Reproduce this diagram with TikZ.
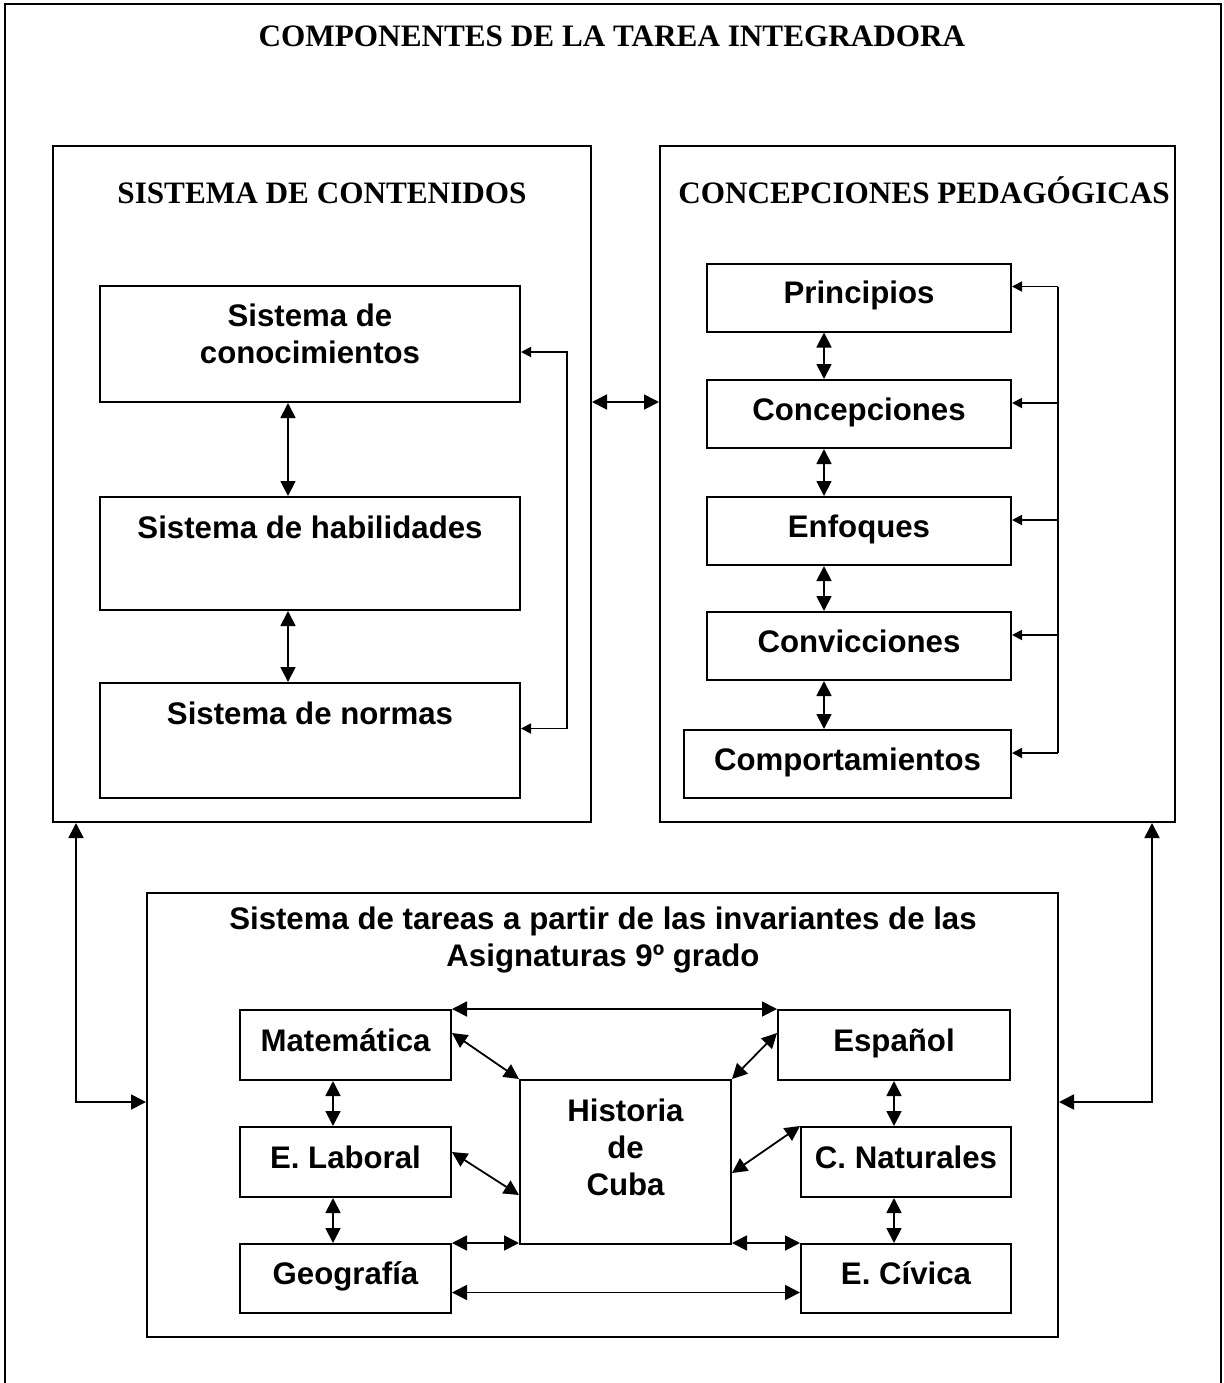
\documentclass[tikz,border=0pt]{standalone}
\usepackage{fontspec}
\setmainfont{Liberation Serif}
\newfontfamily\arialfont{Liberation Sans}
\usetikzlibrary{arrows.meta}

\tikzstyle{frame}=[draw,
                   line width=1pt,
                   inner sep=0pt]
\tikzstyle{subject}=[frame,
                     align=center,
                     text height=11pt,
                     text depth=5pt,
                     font=\arialfont\bfseries\fontsize{15.6}{18.5}\selectfont]
\tikzstyle{caption}=[inner sep=0pt,
                     align=center,
                     font=\arialfont\bfseries\fontsize{15.6}{18.5}\selectfont]
\tikzstyle{heading}=[inner sep=0pt,
                     align=center,
                     text height=11pt,
                     text depth=3pt,
                     font=\bfseries\fontsize{15.6}{18.5}\selectfont]
\tikzstyle{link}=[<->, line width=0.9pt]
\tikzstyle{bus}=[line width=0.9pt, >={Triangle[length=5pt,width=5pt]}]

\begin{document}
\begin{tikzpicture}[x=0.5pt, y=-0.5pt, >={Triangle[length=7.5pt,width=7.5pt]}]
    \useasboundingbox (0,0) rectangle (1223,1383);
    \draw[line width=1.2pt] (5,1383) -- (5,4) -- (1221,4) -- (1221,1383);
    \node [heading] (title) at (612,38) {COMPONENTES DE LA TAREA INTEGRADORA};

    % sistema de contenidos
    \node [frame, minimum width=269pt, minimum height=338pt] (cont) at (322,484) {};
    \node [heading] (cont-t) at (322,195) {SISTEMA DE CONTENIDOS};
    \node [frame, minimum width=210pt, minimum height=58pt] (conoc) at (310,344) {};
    \node [caption] (conoc-t) at (310,334) {Sistema de\\conocimientos};
    \node [frame, minimum width=210pt, minimum height=56.5pt] (habil) at (310,553.5) {};
    \node [caption] (habil-t) at (310,527) {Sistema de habilidades};
    \node [frame, minimum width=210pt, minimum height=57.5pt] (normas) at (310,740.5) {};
    \node [caption] (normas-t) at (310,713) {Sistema de normas};
    \coordinate (lcol) at (288,0);
    \coordinate (lbus) at (567,0);
    \draw [link] (conoc.south -| lcol) -- (habil.north -| lcol);
    \draw [link] (habil.south -| lcol) -- (normas.north -| lcol);
    \draw [bus, <->] ([yshift=-4pt]conoc.east) -- ([yshift=-4pt]conoc.east -| lbus)
        -- ([yshift=6pt]normas.east -| lbus) -- ([yshift=6pt]normas.east);

    % concepciones pedagogicas
    \node [frame, minimum width=257.5pt, minimum height=338pt] (ped) at (917.5,484) {};
    \node [heading] (ped-t) at (924,195) {CONCEPCIONES PEDAGÓGICAS};
    \node [subject, minimum width=152pt, minimum height=34pt] (princ) at (859,297.5) {Principios};
    \node [subject, minimum width=152pt, minimum height=34pt] (conc) at (859,414) {Concepciones};
    \node [subject, minimum width=152pt, minimum height=34pt] (enf) at (859,531) {Enfoques};
    \node [subject, minimum width=152pt, minimum height=34pt] (conv) at (859,646) {Convicciones};
    \node [subject, minimum width=163.5pt, minimum height=34pt] (comp) at (847.5,764) {Comportamientos};
    \coordinate (pcol) at (824,0);
    \coordinate (rbus) at (1058,0);
    \foreach \a/\b in {princ/conc,conc/enf,enf/conv,conv/comp}
        \draw [link] (\a.south -| pcol) -- (\b.north -| pcol);
    \draw [bus] ([yshift=5.5pt]princ.east -| rbus) -- ([yshift=5.5pt]comp.east -| rbus);
    \foreach \b in {princ,conc,enf,conv,comp}
        \draw [bus, <-] ([yshift=5.5pt]\b.east) -- ([yshift=5.5pt]\b.east -| rbus);

    \draw [link] ([yshift=41pt]cont.east) -- ([yshift=41pt]ped.west);

    % sistema de tareas
    \node [frame, minimum width=455.5pt, minimum height=222pt] (tareas) at (602.5,1115) {};
    \node [caption] (tareas-t) at (603,940) {Sistema de tareas a partir de las invariantes de las\\Asignaturas 9º grado};
    \node [subject, minimum width=105.5pt, minimum height=35pt] (mat) at (345.5,1045) {Matemática};
    \node [subject, minimum width=105.5pt, minimum height=35pt] (lab) at (345.5,1162) {E. Laboral};
    \node [subject, minimum width=105.5pt, minimum height=34.5pt] (geo) at (345.5,1278.5) {Geografía};
    \node [subject, minimum width=116pt, minimum height=35pt] (esp) at (894,1045) {Español};
    \node [subject, minimum width=105pt, minimum height=35pt] (cnat) at (906,1162) {C. Naturales};
    \node [subject, minimum width=105pt, minimum height=34.5pt] (eciv) at (906,1278.5) {E. Cívica};
    \node [frame, minimum width=105.5pt, minimum height=82pt] (hist) at (625.5,1162) {};
    \node [caption] (hist-t) at (625.5,1147) {Historia\\de\\Cuba};
    \coordinate (mcol) at (333,0);
    \coordinate (ncol) at (894,0);
    \draw [link] (mat.south -| mcol) -- (lab.north -| mcol);
    \draw [link] (lab.south -| mcol) -- (geo.north -| mcol);
    \draw [link] (esp.south -| ncol) -- (cnat.north -| ncol);
    \draw [link] (cnat.south -| ncol) -- (eciv.north -| ncol);
    \draw [link] (mat.north east) -- (esp.north west);
    \draw [link] ([yshift=-7pt]geo.east) -- ([yshift=-7pt]eciv.west);
    \draw [link] ([yshift=6pt]mat.east) -- (hist.north west);
    \draw [link] ([yshift=5pt]lab.east) -- ([yshift=-16.5pt]hist.west);
    \draw [link] (geo.north east) -- (geo.north east -| hist.west);
    \draw [link] ([yshift=6pt]esp.west) -- (hist.north east);
    \draw [link] (cnat.north west) -- ([yshift=-5.5pt]hist.east);
    \draw [link] (eciv.north west) -- (eciv.north west -| hist.east);

    % enlaces con el sistema de tareas
    \coordinate (lk) at (76,1102);
    \coordinate (rk) at (1152,1102);
    \draw [link] (cont.south -| lk) -- (lk) -- (lk -| tareas.west);
    \draw [link] (ped.south -| rk) -- (rk) -- (rk -| tareas.east);
\end{tikzpicture}
\end{document}
